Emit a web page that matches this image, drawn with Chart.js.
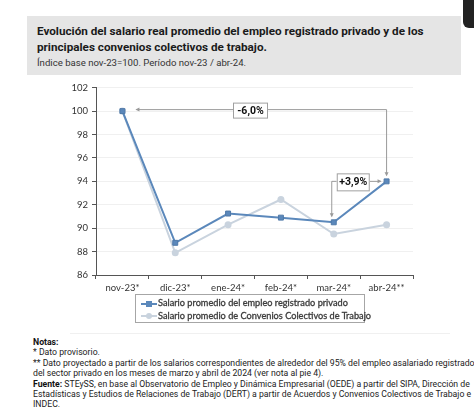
<!DOCTYPE html>
<html>
<head>
<meta charset="utf-8">
<script src="https://cdn.jsdelivr.net/npm/chart.js@4.4.1/dist/chart.umd.min.js"></script>
<style>
  body { margin: 0; width: 474px; height: 409px; background: #fff; overflow: hidden; position: relative; font-family: Roboto, sans-serif; }
  .head { position: absolute; left: 27px; top: 16px; width: 434px; height: 59px; background: #e5e5e5; }
  .head h1 { position: absolute; left: 10px; top: 7px; margin: 0; font-size: 11.7px; line-height: 16px; font-weight: bold; color: #1a1a1a; white-space: nowrap; }
  .head p { position: absolute; left: 10px; top: 41px; margin: 0; font-size: 9.6px; color: #333; white-space: nowrap; }
  .corner { position: absolute; left: 463px; top: -10px; width: 30px; height: 38px; background: #222; border-radius: 6px; }
  .frame { position: absolute; left: 70px; top: 77px; width: 380px; height: 256px; border-bottom: 1px solid #f0f0f0; }
  #wrap { position: absolute; left: 56px; top: 78px; width: 362px; height: 217px; }
  #legend { position: absolute; left: 135px; top: 294px; width: 230px; height: 29px; border: 1px solid #a6a6a6; font-family: Lato, sans-serif; font-size: 9.2px; color: #3a3a3a; -webkit-text-stroke: 0.3px #3a3a3a; box-sizing: border-box; padding: 2px 0 0 5px; }
  #legend div { height: 12.5px; line-height: 12.5px; white-space: nowrap; }
  #legend canvas { vertical-align: middle; margin-right: 1px; }
  .notes { position: absolute; left: 33px; top: 337px; font-size: 8.7px; line-height: 10.4px; color: #222; white-space: nowrap; }
  .notes b { color: #111; }
</style>
</head>
<body>
<div class="head">
  <h1>Evolución del salario real promedio del empleo registrado privado y de los<br>principales convenios colectivos de trabajo.</h1>
  <p>Índice base nov-23=100. Período nov-23 / abr-24.</p>
</div>
<div class="corner"></div>
<div class="frame"></div>
<div id="wrap"><canvas id="chart"></canvas></div>
<div id="legend"></div>
<div class="notes">
  <b>Notas:</b><br>
  * Dato provisorio.<br>
  ** Dato proyectado a partir de los salarios correspondientes de alrededor del 95% del empleo asalariado registrado<br>
  del sector privado en los meses de marzo y abril de 2024 (ver nota al pie 4).<br>
  <b>Fuente:</b> STEySS, en base al Observatorio de Empleo y Dinámica Empresarial (OEDE) a partir del SIPA, Dirección de<br>
  Estadísticas y Estudios de Relaciones de Trabajo (DERT) a partir de Acuerdos y Convenios Colectivos de Trabajo e<br>
  INDEC.
</div>
<script>
const months = ['nov-23*', 'dic-23*', 'ene-24*', 'feb-24*', 'mar-24*', 'abr-24**'];
const privado = [100, 88.75, 91.25, 90.9, 90.5, 94.0];
const convenios = [100, 87.9, 90.3, 92.45, 89.5, 90.3];
const seriesNames = [
  'Salario promedio del empleo registrado privado',
  'Salario promedio de Convenios Colectivos de Trabajo'
];
const yTicks = [86, 88, 90, 92, 94, 96, 98, 100, 102];

const colPrivado = '#5b88bb';
const colConvenios = '#c9d3de';

// arrows + boxed labels (-6,0% / +3,9%)
const arrowNotes = {
  id: 'arrowNotes',
  afterDatasetsDraw(chart) {
    const { ctx, scales: { x, y } } = chart;
    const xNov = x.getPixelForValue(0);
    const xMar = x.getPixelForValue(4);
    const xAbr = x.getPixelForValue(5);
    const yAbr = y.getPixelForValue(privado[5]);
    const yMar = y.getPixelForValue(privado[4]);
    const yTop = y.getPixelForValue(100) - 1.5;

    ctx.save();
    ctx.strokeStyle = '#9a9a9a';
    ctx.fillStyle = '#9a9a9a';
    ctx.lineWidth = 1;

    function head(px, py, dir) {
      ctx.beginPath();
      if (dir === 'left') { ctx.moveTo(px, py); ctx.lineTo(px + 4, py - 2); ctx.lineTo(px + 4, py + 2); }
      if (dir === 'right') { ctx.moveTo(px, py); ctx.lineTo(px - 4, py - 2); ctx.lineTo(px - 4, py + 2); }
      if (dir === 'down') { ctx.moveTo(px, py); ctx.lineTo(px - 2, py - 4); ctx.lineTo(px + 2, py - 4); }
      ctx.closePath();
      ctx.fill();
    }

    // -6,0%
    ctx.beginPath();
    ctx.moveTo(xNov + 14, yTop);
    ctx.lineTo(xAbr, yTop);
    ctx.lineTo(xAbr, yAbr - 6);
    ctx.stroke();
    head(xNov + 13, yTop, 'left');
    head(xAbr, yAbr - 5, 'down');

    // +3,9%
    const bx = xMar + 3;
    ctx.beginPath();
    ctx.moveTo(bx, yAbr);
    ctx.lineTo(xMar - 2, yAbr);
    ctx.lineTo(xMar - 2, yMar - 6);
    ctx.stroke();
    head(xMar - 2, yMar - 5, 'down');
    ctx.beginPath();
    ctx.moveTo(bx + 33, yAbr);
    ctx.lineTo(xAbr - 6, yAbr);
    ctx.stroke();
    head(xAbr - 5, yAbr, 'right');

    function box(cx, cy, w, h, text) {
      ctx.fillStyle = '#ffffff';
      ctx.fillRect(cx - w / 2, cy - h / 2, w, h);
      ctx.strokeStyle = '#a0a0a0';
      ctx.strokeRect(cx - w / 2 + 0.5, cy - h / 2 + 0.5, w - 1, h - 1);
      ctx.fillStyle = '#111';
      ctx.font = 'bold 10.5px Roboto, sans-serif';
      ctx.textAlign = 'center';
      ctx.textBaseline = 'middle';
      ctx.fillText(text, cx, cy + 0.5);
    }
    // box centre sits between nov and abr, a bit left of the middle
    box((xNov + xAbr) / 2 - 4, yTop + 1, 35, 16, '-6,0%');
    box(bx + 16.5, yAbr + 1, 33, 18, '+3,9%');
    ctx.restore();
  }
};

new Chart(document.getElementById('chart'), {
  type: 'line',
  data: {
    labels: months,
    datasets: [
      {
        label: seriesNames[0],
        data: privado,
        borderColor: colPrivado,
        backgroundColor: colPrivado,
        borderWidth: 2,
        pointStyle: 'rect',
        pointRadius: 3.5,
        pointBorderColor: '#4f79a8',
        pointBorderWidth: 1,
        tension: 0,
        order: 1,
      },
      {
        label: seriesNames[1],
        data: convenios,
        borderColor: colConvenios,
        backgroundColor: colConvenios,
        borderWidth: 2,
        pointStyle: 'circle',
        pointRadius: 3.5,
        pointBorderWidth: 0,
        tension: 0,
        order: 2,
      },
    ],
  },
  options: {
    responsive: true,
    maintainAspectRatio: false,
    animation: false,
    layout: { padding: { top: 8, right: 2, left: 0, bottom: 0 } },
    plugins: {
      legend: { display: false },
      tooltip: { enabled: false },
    },
    scales: {
      x: {
        offset: true,
        afterFit(scale) { scale.height = 20; },
        grid: { offset: true, drawOnChartArea: false, tickLength: 4, tickColor: '#555' },
        border: { color: '#555' },
        ticks: { color: '#333', font: { family: 'Lato, sans-serif', size: 9.5 }, padding: 3, maxRotation: 0 },
      },
      y: {
        min: 86,
        max: 102,
        afterFit(scale) { scale.width = 40; },
        afterBuildTicks(scale) { scale.ticks = yTicks.map(v => ({ value: v })); },
        grid: { color: '#f0f0f0', tickLength: 4, tickColor: '#555' },
        border: { color: '#555' },
        ticks: { color: '#333', font: { family: 'Lato, sans-serif', size: 9.5 }, padding: 4 },
      },
    },
  },
  plugins: [arrowNotes],
});

// legend: line with marker, as in the spreadsheet chart
const legendEl = document.getElementById('legend');
[[colPrivado, 'rect'], [colConvenios, 'circle']].forEach(([col, shape], i) => {
  const row = document.createElement('div');
  const mk = document.createElement('canvas');
  mk.width = 16; mk.height = 8;
  const c = mk.getContext('2d');
  c.strokeStyle = col; c.fillStyle = col; c.lineWidth = 2;
  c.beginPath(); c.moveTo(0, 4); c.lineTo(16, 4); c.stroke();
  if (shape === 'rect') c.fillRect(5, 1, 6, 6);
  else { c.beginPath(); c.arc(8, 4, 3, 0, Math.PI * 2); c.fill(); }
  row.appendChild(mk);
  row.appendChild(document.createTextNode(seriesNames[i]));
  legendEl.appendChild(row);
});
</script>
</body>
</html>
